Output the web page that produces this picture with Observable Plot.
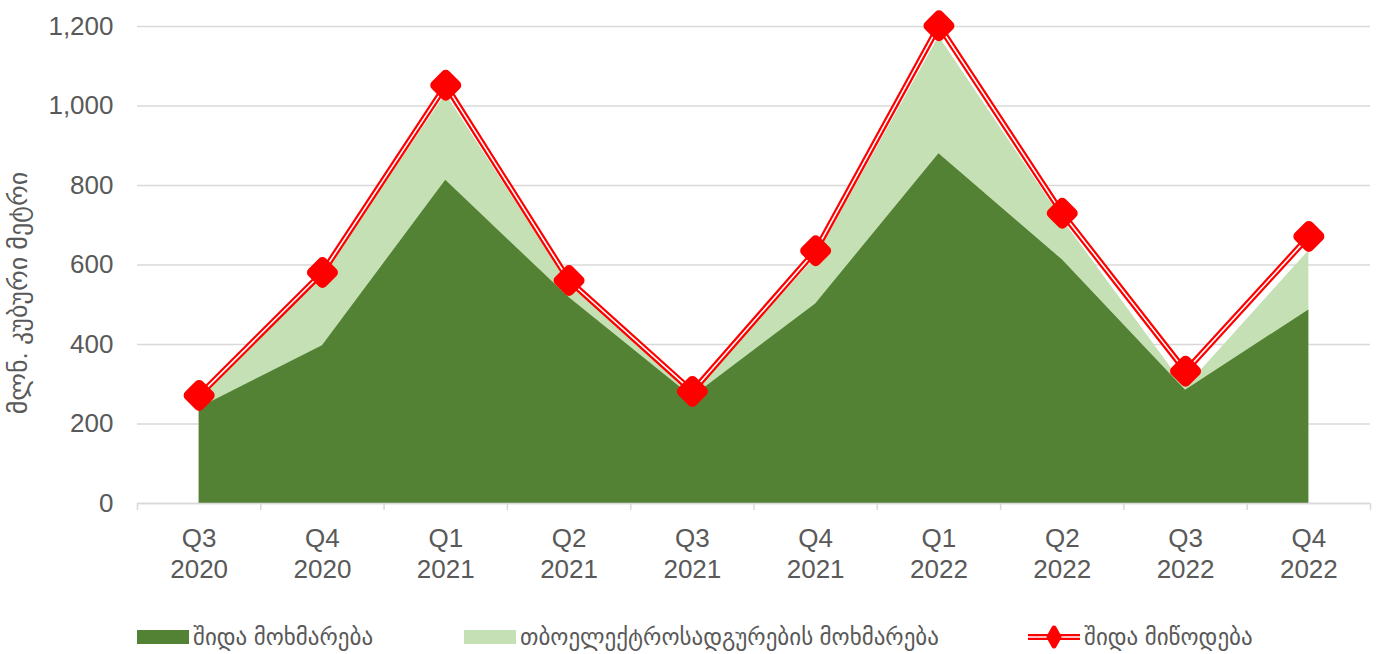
<!DOCTYPE html>
<html>
<head>
<meta charset="utf-8">
<script src="https://cdn.jsdelivr.net/npm/d3@7"></script>
<script src="https://cdn.jsdelivr.net/npm/@observablehq/plot@0.6"></script>
<style>
  html, body { margin: 0; padding: 0; background: #fff; }
  #wrap { position: relative; width: 1381px; height: 654px; font-family: "Liberation Sans", "DejaVu Sans", sans-serif; }
  .legend { position: absolute; top: 622px; height: 30px; display: flex; align-items: center; font-size: 23px; color: #595959; white-space: nowrap; }
  .sw { width: 52px; height: 14px; margin-right: 4px; }
</style>
</head>
<body>
<div id="wrap">
  <div id="chart"></div>
</div>
<script>
// ---- data ----
const categories = ["Q3 2020","Q4 2020","Q1 2021","Q2 2021","Q3 2021","Q4 2021","Q1 2022","Q2 2022","Q3 2022","Q4 2022"];
const domesticConsumption = [240, 397, 813, 518, 268, 502, 880, 613, 285, 487];
const tppConsumption      = [25, 175, 217, 34, 10, 116, 295, 102, 7, 149];
const domesticSupply      = [272, 581, 1052, 561, 282, 636, 1202, 730, 333, 672];
const yTicks = [0, 200, 400, 600, 800, 1000, 1200];
const seriesNames = ["შიდა მოხმარება", "თბოელექტროსადგურების მოხმარება", "შიდა მიწოდება"];
const yLabel = "მლნ. კუბური მეტრი";

const darkGreen = "#548235", lightGreen = "#C5E0B4", red = "#FF0000", grid = "#D9D9D9", txt = "#595959";

const rows = categories.map((c, i) => ({
  i, cat: c,
  dom: domesticConsumption[i],
  total: domesticConsumption[i] + tppConsumption[i],
  supply: domesticSupply[i]
}));
const boundaries = d3.range(categories.length + 1).map(k => k - 0.5);

const roundedDiamond = {
  draw(ctx, size) {
    const h = Math.sqrt(size / Math.PI);
    ctx.moveTo(0, -h); ctx.lineTo(h, 0); ctx.lineTo(0, h); ctx.lineTo(-h, 0); ctx.closePath();
  }
};

const W = 1381, H = 615;
const chart = Plot.plot({
  width: W, height: H,
  marginLeft: 137, marginRight: 11, marginTop: 26, marginBottom: H - 503,
  style: { fontFamily: "'Liberation Sans', 'DejaVu Sans', sans-serif", color: txt, background: "#fff" },
  x: { type: "linear", domain: [-0.5, categories.length - 0.5] },
  y: { domain: [0, 1200] },
  marks: [
    Plot.gridY(yTicks, { stroke: grid, strokeOpacity: 1, strokeWidth: 1.5 }),
    Plot.areaY(rows, { x: "i", y1: 0, y2: "total", fill: lightGreen }),
    Plot.areaY(rows, { x: "i", y1: 0, y2: "dom", fill: darkGreen }),
    Plot.ruleY([0], { stroke: grid, strokeWidth: 1.5 }),
    Plot.axisX({ ticks: boundaries, tickFormat: () => "", tickSize: 7, stroke: grid, strokeWidth: 1.5, strokeOpacity: 1, label: null }),
    Plot.axisY({ ticks: yTicks, tickSize: 0, tickPadding: 24, tickFormat: d3.format(","), fontSize: 26, fill: txt, label: null }),
    Plot.text(rows, { x: "i", text: d => d.cat.replace(" ", "\n"), frameAnchor: "bottom", lineAnchor: "top", dy: 22, lineHeight: 1.17, fontSize: 26, fill: txt }),
    Plot.text([yLabel], { frameAnchor: "left", textAnchor: "middle", rotate: -90, dx: -119, dy: 28, fontSize: 26, fill: txt }),
    Plot.line(rows, { x: "i", y: "supply", stroke: red, strokeWidth: 6 }),
    Plot.line(rows, { x: "i", y: "supply", stroke: "#fff", strokeWidth: 1.6 }),
    Plot.dot(rows, { x: "i", y: "supply", symbol: roundedDiamond, r: 10.5, fill: red, stroke: red, strokeWidth: 10, strokeLinejoin: "round" })
  ]
});
document.getElementById("chart").appendChild(chart);

// ---- legend ----
const wrap = document.getElementById("wrap");
const legendItems = [
  { left: 137, kind: "swatch", color: darkGreen, name: seriesNames[0] },
  { left: 464, kind: "swatch", color: lightGreen, name: seriesNames[1] },
  { left: 1028, kind: "line", color: red, name: seriesNames[2] }
];
for (const it of legendItems) {
  const div = document.createElement("div");
  div.className = "legend";
  div.style.left = it.left + "px";
  if (it.kind === "swatch") {
    const s = document.createElement("span");
    s.className = "sw"; s.style.background = it.color;
    div.appendChild(s);
  } else {
    const svgNS = "http://www.w3.org/2000/svg";
    const svg = document.createElementNS(svgNS, "svg");
    svg.setAttribute("width", 52); svg.setAttribute("height", 30);
    svg.style.marginRight = "4px";
    svg.innerHTML = `<line x1="0" x2="52" y1="15" y2="15" stroke="${red}" stroke-width="6"/>
      <line x1="0" x2="52" y1="15" y2="15" stroke="#fff" stroke-width="1.6"/>
      <path d="M26,6 L31,15 L26,24 L21,15 Z" fill="${red}" stroke="${red}" stroke-width="5" stroke-linejoin="round"/>`;
    div.appendChild(svg);
  }
  const t = document.createElement("span");
  t.textContent = it.name;
  div.appendChild(t);
  wrap.appendChild(div);
}
</script>
</body>
</html>
